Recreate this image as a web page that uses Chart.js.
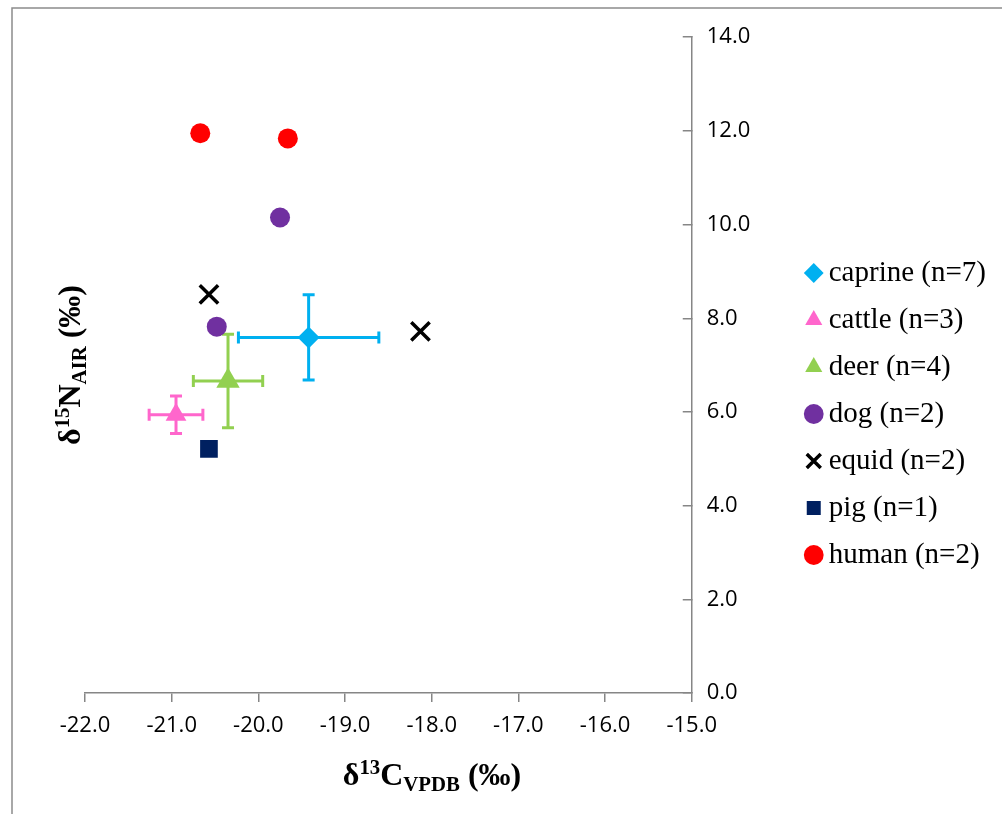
<!DOCTYPE html>
<html>
<head>
<meta charset="utf-8">
<title>Carbon and nitrogen isotope values</title>
<script src="https://cdn.jsdelivr.net/npm/chart.js"></script>
<style>
  html, body { margin: 0; padding: 0; background: #fff; }
  #isoChart { display: block; }
</style>
</head>
<body>
<canvas id="isoChart" width="1002" height="814"></canvas>
<script>
  // Group means (single values where n is small) for d13C and d15N
  const groups = ['caprine (n=7)', 'cattle (n=3)', 'deer (n=4)', 'dog (n=2)', 'equid (n=2)', 'pig (n=1)', 'human (n=2)'];
  const carbon = [[-19.42], [-20.95], [-20.35], [-20.48, -19.75], [-20.57, -18.13], [-20.57], [-20.67, -19.66]];
  const nitrogen = [[7.59], [5.94], [6.66], [7.82, 10.15], [8.51, 7.72], [5.21], [11.95, 11.84]];
  // one standard deviation, only for the groups plotted as a mean
  const carbonSd = [0.81, 0.31, 0.40, null, null, null, null];
  const nitrogenSd = [0.91, 0.40, 1.00, null, null, null, null];
  const xRange = [-22, -15];
  const yRange = [0, 14];

  const colours = ['#00B0F0', '#FF66CC', '#92D050', '#7030A0', '#000000', '#002060', '#FF0000'];
  const markers = ['rectRot', 'triangle', 'triangle', 'circle', 'crossRot', 'rect', 'circle'];
  const markerSize = [11, 12, 13.5, 10, 13, 12.5, 10];

  const axisGrey = '#868686';
  const serif = '"Liberation Serif", "Times New Roman", serif';

  const datasets = groups.map((name, i) => ({
    label: name,
    data: carbon[i].map((c, j) => ({ x: c, y: nitrogen[i][j] })),
    pointStyle: markers[i],
    pointRadius: markerSize[i],
    pointHoverRadius: markerSize[i],
    backgroundColor: colours[i],
    borderColor: colours[i],
    pointBorderWidth: markers[i] === 'crossRot' ? 3.5 : 0,
    sd: { x: carbonSd[i], y: nitrogenSd[i] }
  }));

  // whiskers with flat caps, drawn under the markers
  const errorBars = {
    id: 'errorBars',
    beforeDatasetsDraw(chart) {
      const { ctx, scales: { x, y } } = chart;
      const cap = 6;
      ctx.save();
      ctx.lineWidth = 3;
      chart.data.datasets.forEach(ds => {
        if (ds.sd.x == null) return;
        ds.data.forEach(p => {
          const px = x.getPixelForValue(p.x);
          const py = y.getPixelForValue(p.y);
          const xl = x.getPixelForValue(p.x - ds.sd.x);
          const xr = x.getPixelForValue(p.x + ds.sd.x);
          const yt = y.getPixelForValue(p.y + ds.sd.y);
          const yb = y.getPixelForValue(p.y - ds.sd.y);
          ctx.strokeStyle = ds.borderColor;
          ctx.beginPath();
          ctx.moveTo(xl, py); ctx.lineTo(xr, py);
          ctx.moveTo(xl, py - cap); ctx.lineTo(xl, py + cap);
          ctx.moveTo(xr, py - cap); ctx.lineTo(xr, py + cap);
          ctx.moveTo(px, yt); ctx.lineTo(px, yb);
          ctx.moveTo(px - cap, yt); ctx.lineTo(px + cap, yt);
          ctx.moveTo(px - cap, yb); ctx.lineTo(px + cap, yb);
          ctx.stroke();
        });
      });
      ctx.restore();
    }
  };

  // text with superscript / subscript runs, centred on cx, baseline at 0
  function drawRich(ctx, parts, cx, size) {
    const runs = parts.map(([t, kind]) => {
      const s = kind ? size * 0.65 : size;
      ctx.font = `bold ${s}px ${serif}`;
      return { t, kind, s, w: ctx.measureText(t).width };
    });
    let x = cx - runs.reduce((a, r) => a + r.w, 0) / 2;
    for (const r of runs) {
      ctx.font = `bold ${r.s}px ${serif}`;
      const dy = r.kind === 'sup' ? -size * 0.34 : r.kind === 'sub' ? size * 0.2 : 0;
      ctx.fillText(r.t, x, dy);
      x += r.w;
    }
  }

  const axisTitles = {
    id: 'axisTitles',
    afterDraw(chart) {
      const ctx = chart.ctx;
      ctx.save();
      ctx.fillStyle = '#000';
      ctx.textAlign = 'left';
      ctx.textBaseline = 'alphabetic';
      ctx.save();
      ctx.translate(0, 785);
      drawRich(ctx, [['δ', ''], ['13', 'sup'], ['C', ''], ['VPDB', 'sub'], [' (‰)', '']], 432, 32);
      ctx.restore();
      ctx.translate(80, 365);
      ctx.rotate(-Math.PI / 2);
      drawRich(ctx, [['δ', ''], ['15', 'sup'], ['N', ''], ['AIR', 'sub'], [' (‰)', '']], 0, 32);
      ctx.restore();
    }
  };

  // outer border of the figure
  const frame = {
    id: 'frame',
    beforeDraw(chart) {
      const ctx = chart.ctx;
      ctx.save();
      ctx.strokeStyle = '#8c8c8c';
      ctx.lineWidth = 1.5;
      ctx.beginPath();
      ctx.moveTo(12, chart.height);
      ctx.lineTo(12, 8);
      ctx.lineTo(chart.width, 8);
      ctx.stroke();
      ctx.restore();
    }
  };

  new Chart(document.getElementById('isoChart'), {
    type: 'scatter',
    data: { datasets },
    plugins: [frame, errorBars, axisTitles],
    options: {
      responsive: false,
      animation: false,
      layout: { padding: { top: 33, left: 85, right: 6, bottom: 19 } },
      scales: {
        x: {
          type: 'linear',
          position: 'bottom',
          min: xRange[0],
          max: xRange[1],
          ticks: {
            stepSize: 1,
            padding: 11,
            color: '#000',
            font: { family: '"Open Sans"', size: 22 },
            callback: v => v.toFixed(1)
          },
          grid: { drawOnChartArea: false, tickLength: 9, color: axisGrey, lineWidth: 1.5 },
          border: { color: axisGrey, width: 1.5 },
          afterFit(scale) { scale.height = 102; }
        },
        y: {
          type: 'linear',
          position: 'right',
          min: yRange[0],
          max: yRange[1],
          ticks: {
            stepSize: 2,
            padding: 24,
            color: '#000',
            font: { family: '"Open Sans"', size: 22 },
            callback: v => v.toFixed(1)
          },
          grid: { drawOnChartArea: false, tickLength: -9, color: axisGrey, lineWidth: 1.5 },
          border: { color: axisGrey, width: 1.5 },
          afterFit(scale) { scale.width = 103.5; }
        }
      },
      plugins: {
        tooltip: { enabled: false },
        legend: {
          position: 'right',
          labels: {
            usePointStyle: true,
            boxWidth: 1,
            boxHeight: 14,
            padding: 18,
            color: '#000',
            font: { family: serif, size: 29 }
          }
        }
      }
    }
  });
</script>
</body>
</html>
